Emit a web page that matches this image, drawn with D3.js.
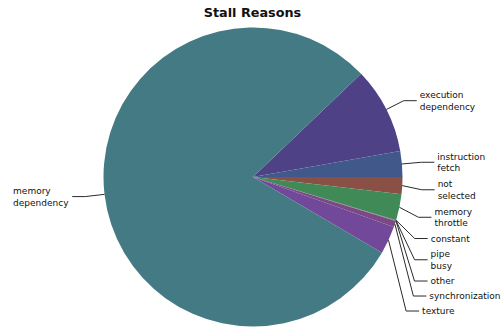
<!DOCTYPE html>
<html>
<head>
<meta charset="utf-8">
<script src="https://cdn.jsdelivr.net/npm/d3@7"></script>
<style>
  body { margin: 0; background: #fff; }
  text { font-family: "DejaVu Sans", sans-serif; }
</style>
</head>
<body>
<svg id="chart" width="501" height="331"></svg>
<script>
// stall reasons, in percent of all stalls
const categories = ["execution dependency", "instruction fetch", "not selected", "memory throttle",
  "constant", "pipe busy", "other", "synchronization", "texture", "memory dependency"];
const values = [9.36, 2.78, 1.83, 2.83, 0.03, 0.03, 0.03, 0.69, 3.0, 79.42];
const palette = ["#4e4186", "#41598a", "#8b5045", "#3f8a57", "#5a7f3c", "#6b5f91",
  "#5d6a8a", "#7b4a82", "#72489b", "#447a83"];

const width = 501, height = 331;
const cx = 253, cy = 177, radius = 149.5;
const labelRadius = radius * 1.13;
const lineH = 12.5, gap = 2.5;

const svg = d3.select("#chart");

svg.append("text")
  .attr("x", 252.5)
  .attr("y", 16.5)
  .attr("text-anchor", "middle")
  .style("font-size", "12.8px")
  .style("font-weight", "bold")
  .attr("fill", "#111")
  .text("Stall Reasons");

const color = d3.scaleOrdinal().domain(categories).range(palette);

const start = 46.3 * Math.PI / 180;
const pie = d3.pie().sort(null).value(d => d)
  .startAngle(start).endAngle(start + 2 * Math.PI);
const arcs = pie(values);
const arc = d3.arc().innerRadius(0).outerRadius(radius);

const g = svg.append("g").attr("transform", `translate(${cx},${cy})`);

g.selectAll("path")
  .data(arcs)
  .enter()
  .append("path")
  .attr("d", arc)
  .attr("fill", (d, i) => color(categories[i]));

// label layout: elbow on a bigger circle, then spread each side downwards
const items = arcs.map((a, i) => {
  const mid = (a.startAngle + a.endAngle) / 2;
  const s = Math.sin(mid), c = -Math.cos(mid);
  return {
    name: categories[i],
    lines: categories[i].split(" "),
    side: s >= 0 ? 1 : -1,
    sx: cx + radius * s, sy: cy + radius * c,
    ex: cx + labelRadius * s, y: cy + labelRadius * c
  };
});

[1, -1].forEach(side => {
  const list = items.filter(d => d.side === side).sort((a, b) => a.y - b.y);
  for (let k = 1; k < list.length; k++) {
    const prev = list[k - 1], cur = list[k];
    const minY = prev.y + (prev.lines.length + cur.lines.length) * lineH / 2 + gap;
    if (cur.y < minY) cur.y = minY;
  }
});

const lines = svg.append("g");
const labels = svg.append("g");

items.forEach(d => {
  const endX = d.ex + 13 * d.side;
  lines.append("polyline")
    .attr("points", [[d.sx, d.sy], [d.ex, d.y], [endX, d.y]].map(p => p.join(",")).join(" "))
    .attr("fill", "none")
    .attr("stroke", "#2a2a2a")
    .attr("stroke-width", 1);

  const t = labels.append("text")
    .style("font-size", "9px")
    .attr("fill", "#111");
  const n = d.lines.length;
  d.lines.forEach((ln, j) => {
    t.append("tspan")
      .attr("x", 0)
      .attr("y", d.y + 3.4 + (j - (n - 1) / 2) * 11.5)
      .text(ln);
  });
  const w = t.node().getBBox().width;
  const x = d.side > 0 ? endX + 3 : endX - 3 - w;
  t.selectAll("tspan").attr("x", x);
});
</script>
</body>
</html>
